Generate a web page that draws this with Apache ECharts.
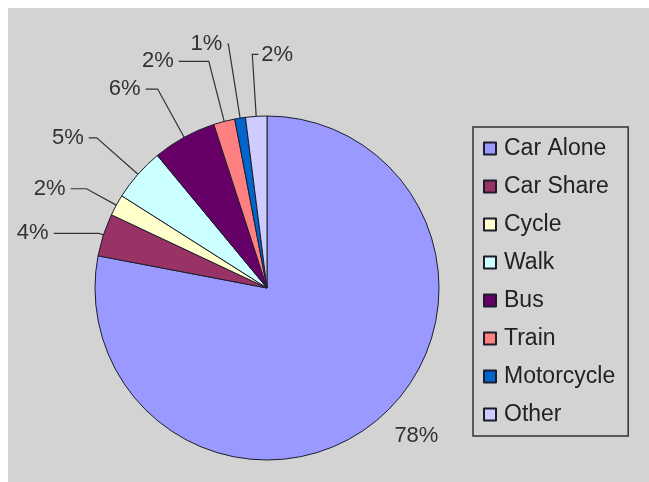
<!DOCTYPE html>
<html>
<head>
<meta charset="utf-8">
<script src="https://cdn.jsdelivr.net/npm/echarts@6/dist/echarts.min.js"></script>
<style>
  html, body { margin: 0; padding: 0; background: #fff; }
  #pie { position: absolute; left: 8px; top: 8px; width: 641px; height: 474px; }
</style>
</head>
<body>
<div id="pie"></div>
<script>
// travel mode shares (%)
const categories = ["Car Alone", "Car Share", "Cycle", "Walk", "Bus", "Train", "Motorcycle", "Other"];
const shares = [78, 4, 2, 5, 6, 2, 1, 2];
const colors = ["#9999ff", "#993366", "#ffffcc", "#ccffff", "#660066", "#ff8080", "#0066cc", "#ccccff"];
// leader line lengths per slice [radial, horizontal], like the excel placement
const leaders = [[20, 0], [5, 45], [34, 16], [55, 8], [55, 12], [62, 30], [75, 1], [62, 6]];

var myChart = echarts.init(document.getElementById("pie"));
var pieData = categories.map((name, i) => {
  return {
    name: name,
    value: shares[i],
    labelLine: { show: i !== 0, length: leaders[i][0], length2: leaders[i][1] },
  };
});

var option = {
  backgroundColor: "#d3d3d3",
  color: colors,
  legend: {
    orient: "vertical",
    left: 465,
    top: 119,
    padding: [10, 13, 10, 10],
    itemGap: 15,
    itemWidth: 12,
    itemHeight: 12,
    icon: "rect",
    borderColor: "#333",
    borderWidth: 1.5,
    textStyle: {
      fontFamily: "Liberation Sans",
      fontSize: 23,
      color: "#222",
      padding: [0, 0, 0, 3],
    },
    data: categories,
  },
  series: [
    {
      type: "pie",
      center: [259, 280],
      radius: 172,
      startAngle: 90,
      clockwise: true,
      animation: false,
      avoidLabelOverlap: false,
      itemStyle: {
        borderColor: "#1c1c2e",
        borderWidth: 1,
      },
      label: {
        show: true,
        position: "outside",
        formatter: "{d}%",
        fontFamily: "Liberation Sans",
        fontSize: 22,
        color: "#333",
      },
      labelLine: {
        show: true,
        lineStyle: { color: "#333", width: 1.2 },
      },
      // the last slice ("Other") gets its label turned to the right side
      labelLayout: function (params) {
        if (params.dataIndex !== categories.length - 1 || !params.labelLinePoints) return {};
        var pts = params.labelLinePoints;
        var bend = pts[1];
        var end = [bend[0] + 6, bend[1]];
        return {
          x: end[0] + 3,
          y: end[1],
          align: "left",
          verticalAlign: "middle",
          labelLinePoints: [pts[0], bend, end],
        };
      },
      emphasis: { disabled: true },
      data: pieData,
    },
  ],
};
myChart.setOption(option);
</script>
</body>
</html>
